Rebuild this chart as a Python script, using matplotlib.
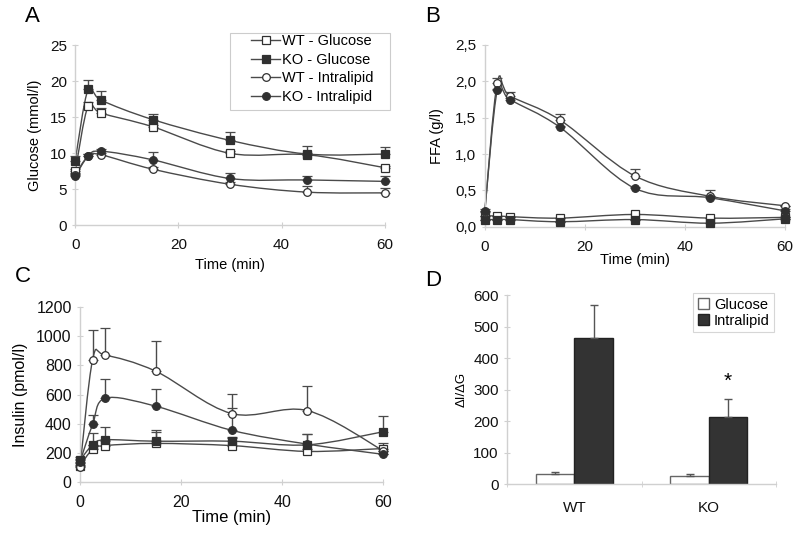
import numpy as np
import matplotlib
matplotlib.use("Agg")
import matplotlib.pyplot as plt
from matplotlib.path import Path
from matplotlib.patches import PathPatch, Rectangle
from matplotlib.lines import Line2D

plt.rcParams['font.family'] = ['Liberation Sans', 'DejaVu Sans']

# ---------------- data ----------------
time = [0, 2.5, 5, 15, 30, 45, 60]

# A: glucose (mmol/l)
glc_wt_glc = [7.5, 16.6, 15.6, 13.7, 10.0, 9.8, 8.0]
glc_wt_glc_err = [0.3, 0.5, 0.7, 0.3, 0.3, 0.3, 0.3]
glc_ko_glc = [9.0, 18.9, 17.4, 14.7, 11.8, 9.9, 9.9]
glc_ko_glc_err = [0.6, 1.3, 1.2, 0.8, 1.1, 1.1, 1.0]
glc_wt_il = [7.0, 9.6, 9.8, 7.8, 5.7, 4.6, 4.5]
glc_wt_il_err = [0.3, 0.3, 0.3, 0.3, 0.3, 0.8, 0.7]
glc_ko_il = [6.8, 9.6, 10.3, 9.1, 6.5, 6.3, 6.1]
glc_ko_il_err = [0.3, 0.3, 0.3, 1.1, 0.8, 0.6, 0.7]

# B: FFA (g/l)
ffa_wt_glc = [0.15, 0.15, 0.14, 0.12, 0.17, 0.12, 0.13]
ffa_ko_glc = [0.10, 0.10, 0.10, 0.07, 0.10, 0.05, 0.11]
ffa_wt_il = [0.20, 1.98, 1.80, 1.47, 0.70, 0.42, 0.29]
ffa_wt_il_err = [0.02, 0.07, 0.05, 0.08, 0.10, 0.08, 0.0]
ffa_ko_il = [0.22, 1.88, 1.75, 1.37, 0.53, 0.40, 0.22]
ffa_ko_il_err = [0.02, 0.02, 0.02, 0.02, 0.02, 0.02, 0.02]

# C: insulin (pmol/l)
ins_wt_glc = [110, 225, 250, 265, 250, 210, 230]
ins_wt_glc_err = [20, 30, 30, 80, 50, 20, 40]
ins_ko_glc = [150, 255, 290, 280, 280, 255, 345]
ins_ko_glc_err = [20, 80, 90, 75, 30, 75, 110]
ins_wt_il = [100, 840, 870, 760, 470, 490, 215]
ins_wt_il_err = [20, 200, 190, 210, 135, 170, 0]
ins_ko_il = [140, 395, 575, 520, 355, 260, 190]
ins_ko_il_err = [20, 65, 135, 115, 150, 70, 0]

# D: delta I / delta G
groups = ["WT", "KO"]
d_glucose = [32, 25]
d_glucose_err = [8, 7]
d_intralipid = [465, 215]
d_intralipid_err = [105, 55]

# ---------------- style helpers ----------------
SPINE = "#d0d0d0"
LINE = "#4a4a4a"
MEDGE = "#303030"


def style_axes(ax):
    for s in ("top", "right"):
        ax.spines[s].set_visible(False)
    for s in ("left", "bottom"):
        ax.spines[s].set_color(SPINE)
        ax.spines[s].set_linewidth(1.0)
    ax.tick_params(direction="inout", length=5, color=SPINE, labelsize=11,
                   labelcolor="#111111")
    ax.tick_params(axis="x", pad=7)


def smooth_path(xs, ys):
    # excel-like smoothed line: bezier segments through the data points
    p = np.column_stack([xs, ys]).astype(float)
    n = len(p)
    verts = [p[0]]
    codes = [Path.MOVETO]
    for i in range(n - 1):
        prev = p[i - 1] if i > 0 else p[i]
        nxt = p[i + 2] if i + 2 < n else p[i + 1]
        c1 = p[i] + (p[i + 1] - prev) / 6.0
        c2 = p[i + 1] - (nxt - p[i]) / 6.0
        verts += [c1, c2, p[i + 1]]
        codes += [Path.CURVE4] * 3
    return Path(verts, codes)


def series(ax, y, err, marker, filled):
    fc = MEDGE if filled else "white"
    ax.add_patch(PathPatch(smooth_path(time, y), fill=False, ec=LINE, lw=1.0,
                           zorder=2, clip_on=False))
    lower = np.zeros(len(y))
    ax.errorbar(time, y, yerr=[lower, err], ls="none",
                marker=marker, ms=6 if marker == "s" else 5.5,
                mfc=fc, mec=MEDGE, mew=0.9,
                ecolor=LINE, elinewidth=1.0, capsize=3.5, capthick=1.0,
                clip_on=False, zorder=3)


def time_axes(ax, ymax, yticks):
    ax.set_xlim(0, 60)
    ax.set_ylim(0, ymax)
    ax.set_xticks([0, 20, 40, 60])
    ax.set_yticks(yticks)
    style_axes(ax)


def fig_xy(px, py):
    return px / 800, 1 - py / 535


fig = plt.figure(figsize=(8, 5.35), dpi=100)

# ---------------- A ----------------
axA = fig.add_axes([0.094, 0.579, 0.387, 0.336])
series(axA, glc_wt_glc, glc_wt_glc_err, "s", False)
series(axA, glc_ko_glc, glc_ko_glc_err, "s", True)
series(axA, glc_wt_il, glc_wt_il_err, "o", False)
series(axA, glc_ko_il, glc_ko_il_err, "o", True)
time_axes(axA, 25, [0, 5, 10, 15, 20, 25])
axA.set_xlabel("Time (min)", fontsize=10.5, labelpad=4)
axA.set_ylabel("Glucose (mmol/l)", fontsize=10.5, labelpad=6)

leg_labels = ["WT - Glucose", "KO - Glucose", "WT - Intralipid", "KO - Intralipid"]
leg_handles = [
    Line2D([], [], color=LINE, lw=1.0, marker=m, ms=6 if m == "s" else 5.5,
           mfc=(MEDGE if f else "white"), mec=MEDGE, mew=0.9)
    for m, f in [("s", False), ("s", True), ("o", False), ("o", True)]
]
# legend box drawn separately (wider left margin like the original)
x0, y0 = fig_xy(230, 110)
x1, y1 = fig_xy(390, 33)
fig.patches.append(Rectangle((x0, y0), x1 - x0, y1 - y0, transform=fig.transFigure,
                             fill=True, fc="white", ec="#cccccc", lw=0.8, zorder=5))
leg = fig.legend(leg_handles, leg_labels, loc="upper left", bbox_to_anchor=fig_xy(251, 34),
                 fontsize=10.5, frameon=False, handlelength=2.0,
                 handletextpad=0.15, borderpad=0, labelspacing=0.32,
                 borderaxespad=0)
leg.set_zorder(6)

# ---------------- B ----------------
axB = fig.add_axes([0.606, 0.576, 0.375, 0.340])
series(axB, ffa_wt_glc, np.zeros(7), "s", False)
series(axB, ffa_ko_glc, np.zeros(7), "s", True)
series(axB, ffa_wt_il, ffa_wt_il_err, "o", False)
series(axB, ffa_ko_il, ffa_ko_il_err, "o", True)
time_axes(axB, 2.5, [0, 0.5, 1.0, 1.5, 2.0, 2.5])
axB.set_yticklabels(["0,0", "0,5", "1,0", "1,5", "2,0", "2,5"])
axB.set_xlabel("Time (min)", fontsize=10.5, labelpad=-1)
axB.set_ylabel("FFA (g/l)", fontsize=10.5, labelpad=8)

# ---------------- C ----------------
axC = fig.add_axes([0.1, 0.099, 0.379, 0.327])
series(axC, ins_wt_glc, ins_wt_glc_err, "s", False)
series(axC, ins_ko_glc, ins_ko_glc_err, "s", True)
series(axC, ins_wt_il, ins_wt_il_err, "o", False)
series(axC, ins_ko_il, ins_ko_il_err, "o", True)
time_axes(axC, 1200, range(0, 1201, 200))
axC.tick_params(labelsize=11.5)
axC.set_xlabel("Time (min)", fontsize=12, labelpad=0)
axC.set_ylabel("Insulin (pmol/l)", fontsize=11.5, labelpad=6)

# ---------------- D ----------------
axD = fig.add_axes([0.634, 0.095, 0.336, 0.353])
x = np.arange(len(groups))
w = 0.285
axD.bar(x - w / 2, d_glucose, w, color="white", edgecolor="#666666", lw=1.0,
        label="Glucose")
axD.bar(x + w / 2, d_intralipid, w, color="#333333", edgecolor="#222222", lw=1.0,
        label="Intralipid")
axD.errorbar(x - w / 2, d_glucose, yerr=[np.zeros(2), d_glucose_err], fmt="none",
             ecolor="#555555", elinewidth=1.0, capsize=3, capthick=1.0)
axD.errorbar(x + w / 2, d_intralipid, yerr=[np.zeros(2), d_intralipid_err], fmt="none",
             ecolor="#555555", elinewidth=1.0, capsize=3, capthick=1.0)
axD.text(x[1] + w / 2, d_intralipid[1] + d_intralipid_err[1] + 25, "*",
         ha="center", va="bottom", fontsize=15)
axD.set_xlim(-0.5, 1.5)
axD.set_ylim(0, 600)
axD.set_yticks(range(0, 601, 100))
axD.set_xticks(x)
axD.set_xticklabels(groups)
axD.set_xticks([-0.5, 0.5, 1.5], minor=True)
axD.set_ylabel("\u0394I/\u0394G", fontsize=9.5)
style_axes(axD)
axD.tick_params(axis="x", which="major", length=0, pad=12)
axD.tick_params(axis="x", which="minor", direction="inout", length=5, color=SPINE)
legD = axD.legend(loc="upper right", bbox_to_anchor=(1.02, 1.05), fontsize=10.5,
                  frameon=True, fancybox=False, handlelength=0.8, handleheight=0.8,
                  handletextpad=0.3, borderpad=0.3, labelspacing=0.15)
legD.get_frame().set_edgecolor("#cccccc")
legD.get_frame().set_linewidth(0.8)

# panel letters
for lbl, px, py in [("A", 25, 17), ("B", 425, 17), ("C", 15, 277), ("D", 425, 280)]:
    fig.text(px / 800, 1 - py / 535, lbl, fontsize=16, ha="left", va="center")

fig.savefig("out.png", dpi=100)
